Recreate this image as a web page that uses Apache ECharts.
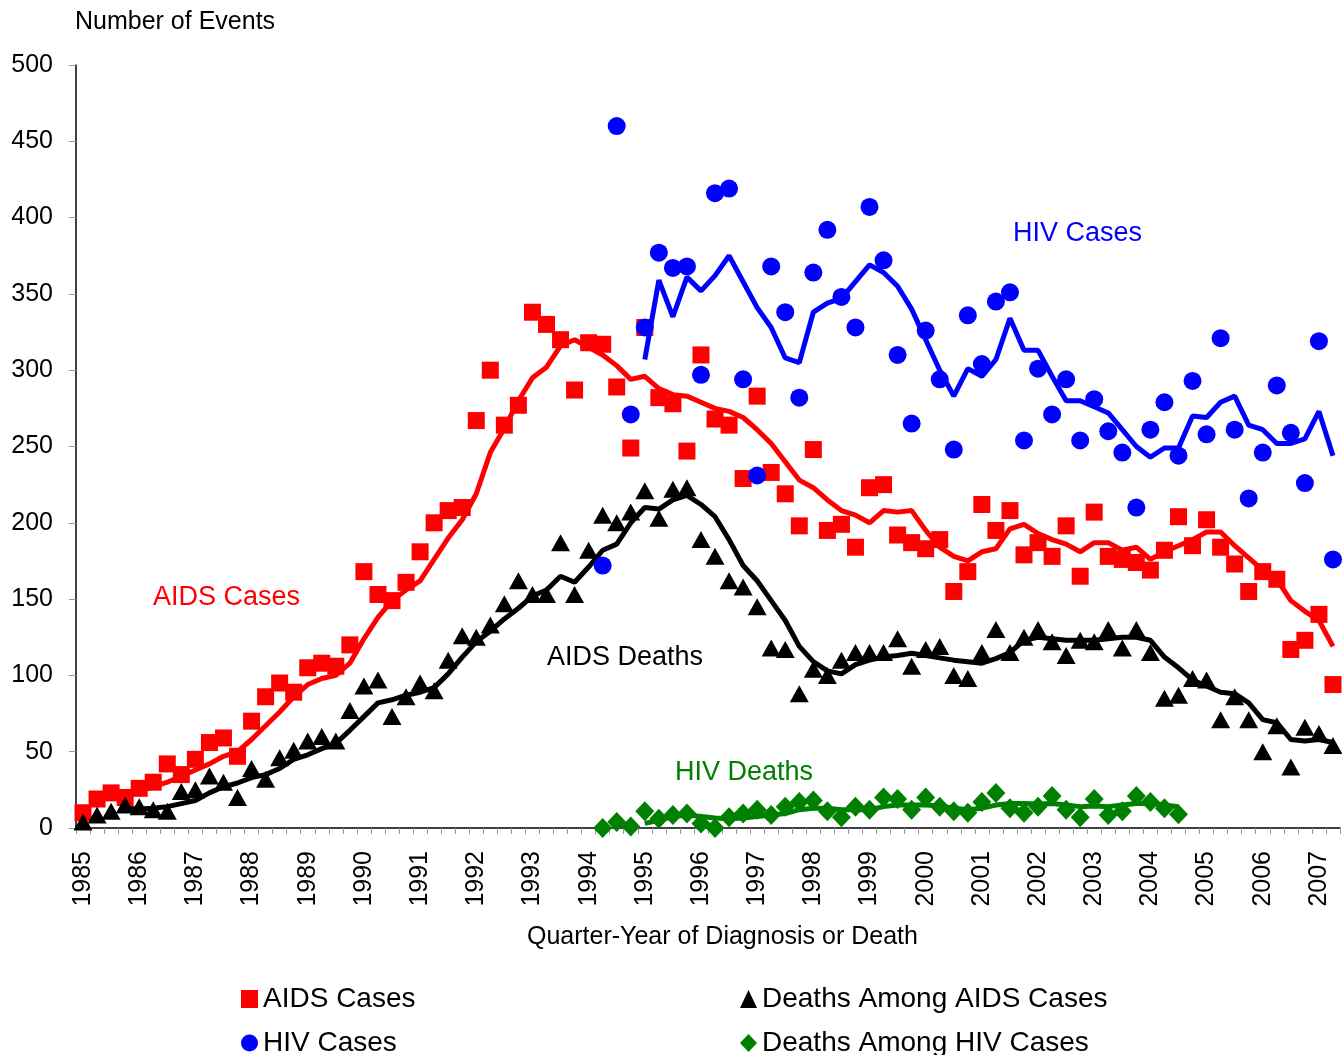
<!DOCTYPE html>
<html>
<head>
<meta charset="utf-8">
<title>AIDS / HIV events by quarter</title>
<script src="https://cdn.jsdelivr.net/npm/echarts@6/dist/echarts.min.js"></script>
<style>
    html, body { margin: 0; padding: 0; background: #fff; }
    #chart { width: 1342px; height: 1055px; }
</style>
</head>
<body>
<div id="chart"></div>
<script>
// Quarter-year categories, 1985 Q1 .. 2007 Q2
const years = [1985, 1986, 1987, 1988, 1989, 1990, 1991, 1992, 1993, 1994, 1995, 1996,
    1997, 1998, 1999, 2000, 2001, 2002, 2003, 2004, 2005, 2006, 2007];
const quarters = [];
years.forEach(y => ['Q1', 'Q2', 'Q3', 'Q4'].forEach(q => quarters.push(y + ' ' + q)));
quarters.length = 90;

// AIDS cases (red squares) and their trend line
const aidsCases = [10, 19, 23, 20, 26, 30, 42, 35, 45, 56, 59, 47, 70, 86, 95, 89, 105, 108, 106, 120,
    168, 153, 149, 161, 181, 200, 208, 210, 267, 300, 264, 277, 338, 330, 320, 287, 318, 317, 289, 249,
    328, 282, 278, 247, 310, 268, 264, 229, 283, 233, 219, 198, 248, 195, 199, 184, 223, 225, 192, 187,
    183, 189, 155, 168, 212, 195, 208, 179, 187, 178, 198, 165, 207, 178, 176, 174, 169, 182, 204, 185,
    202, 184, 173, 155, 168, 163, 117, 123, 140, 94];
const aidsTrend = [null, null, null, 20, 24, 27, 30, 34, 38, 42, 47, 50, 58, 67, 76, 86, 94, 98, 100, 108,
    124, 138, 149, 156, 162, 176, 190, 202, 219, 246, 262, 280, 295, 302, 316, 320, 315, 310, 303, 294,
    296, 288, 284, 283, 279, 275, 273, 269, 261, 252, 240, 228, 223, 215, 208, 205, 200, 208, 207, 208,
    195, 184, 178, 175, 181, 183, 196, 199, 193, 189, 186, 181, 187, 187, 182, 184, 176, 181, 185, 189,
    194, 194, 185, 177, 169, 163, 149, 142, 136, 119];

// Deaths among AIDS cases (black triangles) and trend
const aidsDeaths = [4, 8.5, 11, 15, 14, 12, 11, 24, 25, 34, 30, 20, 39, 32, 46, 51, 57, 60, 57, 77,
    93, 97, 73, 86, 95, 90, 110, 126, 125, 133, 147, 162, 153, 153, 187, 153, 182, 205, 200, 207,
    221, 203, 222, 223, 189, 178, 162, 158, 145, 118, 117, 88, 104, 100, 110, 115, 115, 115, 124, 106,
    117, 119, 100, 98, 115, 130, 115, 125, 130, 122, 113, 123, 122, 130, 118, 130, 115, 85, 87, 98,
    97, 71, 86, 71, 50, 67, 40, 66, 62, 54];
const aidsDeathsTrend = [null, null, null, 13, 12.5, 13, 14, 16, 18, 23, 27, 29.5, 33, 35, 39, 45, 48, 52, 55.5, 64,
    73, 82, 84, 87, 89, 92, 101, 112, 122, 129, 137, 144, 152, 156, 165, 161, 171, 182, 186, 200,
    210, 209, 215, 218, 212, 204, 189, 172, 162, 149, 136, 119, 109, 103, 101, 107, 110, 112, 113, 114.5,
    113, 111.5, 110, 109, 108, 111, 115, 123, 125, 124, 123, 123, 123, 124, 125, 125, 123, 112, 105, 97,
    93, 89, 88, 82, 71, 69, 58, 57, 58, 56];

// HIV cases (blue circles) and trend, from 1994 Q2
const hivCases = Array(37).fill(null).concat([172, 460, 271,
    328, 377, 367, 368, 297, 416, 419, 294, 231, 368, 338, 282, 364, 392, 348, 328, 407, 372, 310, 265,
    326, 294, 248, 336, 304, 345, 351, 254, 301, 271, 294, 254, 281, 260, 246, 210, 261, 279, 244, 293,
    258, 321, 261, 216, 246, 290, 259, 226, 319, 176]);
const hivTrend = Array(40).fill(null).concat([
    307, 359, 335, 361, 352, 362, 375, 358, 341, 328, 308, 305, 338, 344, 347, 358, 369, 364, 355, 340,
    320, 300, 283, 301, 296, 307, 334, 313, 313, 296, 280, 280, 276, 272, 261, 250, 243, 249, 249, 270,
    269, 279, 283, 264, 261, 252, 252, 255, 273, 244]);

// Deaths among HIV cases (green diamonds) and trend, 1994 Q2 .. 2004 Q3
const hivDeaths = Array(37).fill(null).concat([0, 4, 1,
    11, 6, 8.5, 9.5, 3, 0, 7, 9.5, 12, 8.5, 14, 17, 18, 11, 7, 14, 12, 20, 19, 12,
    20, 14, 11, 10, 17, 23, 13, 10, 14, 21, 12, 7, 19, 8.5, 11, 21, 17, 13, 9]);
const hivDeathsTrend = Array(40).fill(null).concat([
    3, 5, 7.5, 8.5, 7.5, 6.5, 6, 6.5, 7.5, 8.5, 9.5, 12, 13, 13, 12, 12, 12, 14, 15, 15,
    15, 14.5, 13, 12, 13, 15, 16, 16, 15.7, 16, 15, 14, 14.4, 14, 15, 16, 16, 15, 14]);

const FONT = 'Liberation Sans, Arial, sans-serif';

document.addEventListener('DOMContentLoaded', function() {
    const chart = echarts.init(document.getElementById('chart'), null, { renderer: 'canvas' });

    function markers(name, data, color, symbol, size, z) {
        return {
            name: name, type: 'scatter', data: data, z: z,
            symbol: symbol, symbolSize: size,
            itemStyle: { color: color, opacity: 1 },
            silent: true
        };
    }
    function trend(name, data, color, z) {
        return {
            name: name, type: 'line', data: data, z: z,
            showSymbol: false, symbol: 'none', connectNulls: false,
            lineStyle: { color: color, width: 5 },
            itemStyle: { color: color },
            silent: true
        };
    }

    // one legend box per entry, laid out as a 2x2 block like the original
    function legendItem(name, icon, left, top) {
        return {
            left: left, top: top, padding: 0,
            itemWidth: 17, itemHeight: 18, itemGap: 0,
            textStyle: { color: '#000', fontSize: 28, fontFamily: FONT },
            data: [{ name: name, icon: icon }],
            selectedMode: false
        };
    }

    const text = (str, x, y, color, size) => ({
        type: 'text', left: x, top: y,
        style: { text: str, fill: color, font: size + 'px ' + FONT }
    });

    const option = {
        animation: false,
        backgroundColor: '#ffffff',
        textStyle: { fontFamily: FONT },
        grid: { left: 76, right: 2, top: 65, bottom: 227, containLabel: false },
        xAxis: {
            type: 'category',
            data: quarters,
            boundaryGap: true,
            axisLine: { lineStyle: { color: '#000', width: 1.5 } },
            axisTick: { show: true, interval: 0, length: 6, lineStyle: { color: '#999' } },
            axisLabel: {
                interval: 3, rotate: 90, margin: 23,
                color: '#000', fontSize: 25, fontFamily: FONT,
                formatter: v => v.slice(0, 4)
            },
            splitLine: { show: false }
        },
        yAxis: {
            type: 'value', min: 0, max: 500, interval: 50,
            axisLine: { show: true, lineStyle: { color: '#000', width: 1.5 } },
            axisTick: { show: true, length: 7, lineStyle: { color: '#999' } },
            axisLabel: { color: '#000', fontSize: 25, margin: 23, fontFamily: FONT },
            splitLine: { show: false }
        },
        legend: [
            legendItem('AIDS Cases', 'rect', 241, 985),
            legendItem('HIV Cases', 'circle', 241, 1029),
            legendItem('Deaths Among AIDS Cases', 'triangle', 740, 985),
            legendItem('Deaths Among HIV Cases', 'diamond', 740, 1029)
        ],
        graphic: [
            text('Number of Events', 75, 10, '#000', 25),
            text('Quarter-Year of Diagnosis or Death', 527, 925, '#000', 25),
            text('AIDS Cases', 153, 584, '#ff0000', 27),
            text('AIDS Deaths', 547, 644, '#000', 27),
            text('HIV Cases', 1013, 220, '#0000ff', 27),
            text('HIV Deaths', 675, 759, '#008000', 27)
        ],
        series: [
            markers('AIDS Cases', aidsCases, '#ff0000', 'rect', 17, 2),
            trend('AIDS Cases trend', aidsTrend, '#ff0000', 2),
            markers('Deaths Among AIDS Cases', aidsDeaths, '#000000', 'triangle', [19, 17], 3),
            trend('Deaths Among AIDS Cases trend', aidsDeathsTrend, '#000000', 3),
            markers('Deaths Among HIV Cases', hivDeaths, '#008000', 'diamond', [19, 20], 3),
            trend('Deaths Among HIV Cases trend', hivDeathsTrend, '#008000', 3),
            markers('HIV Cases', hivCases, '#0000ff', 'circle', 18, 4),
            trend('HIV Cases trend', hivTrend, '#0000ff', 4)
        ]
    };

    chart.setOption(option);
});
</script>
</body>
</html>
